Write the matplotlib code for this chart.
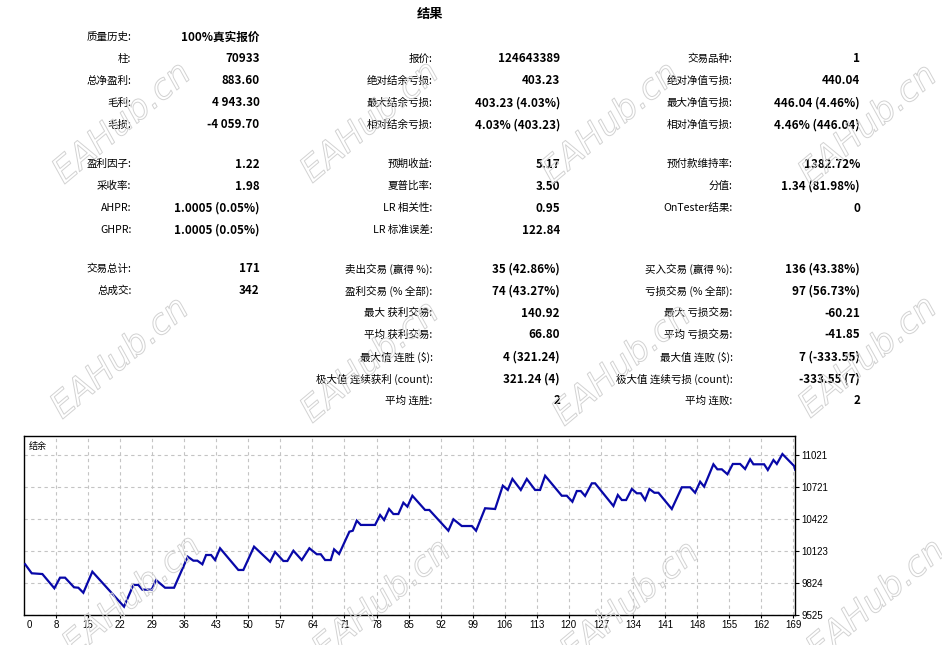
import matplotlib
matplotlib.use("Agg")
import matplotlib.pyplot as plt
import matplotlib.patheffects as pe
from matplotlib.ticker import FixedLocator

# ---------------- data ----------------
title = "结果"

col1_labels = ["质量历史:", "柱:", "总净盈利:", "毛利:", "毛损:",
               "盈利因子:", "采收率:", "AHPR:", "GHPR:",
               "交易总计:", "总成交:", "", "", "", "", ""]
col1_values = ["100%真实报价", "70933", "883.60", "4 943.30", "-4 059.70",
               "1.22", "1.98", "1.0005 (0.05%)", "1.0005 (0.05%)",
               "171", "342", "", "", "", "", ""]
col2_labels = ["", "报价:", "绝对结余亏损:", "最大结余亏损:", "相对结余亏损:",
               "预期收益:", "夏普比率:", "LR 相关性:", "LR 标准误差:",
               "卖出交易 (赢得 %):", "盈利交易 (% 全部):", "最大 获利交易:",
               "平均 获利交易:", "最大值 连胜 ($):", "极大值 连续获利 (count):", "平均 连胜:"]
col2_values = ["", "124643389", "403.23", "403.23 (4.03%)", "4.03% (403.23)",
               "5.17", "3.50", "0.95", "122.84",
               "35 (42.86%)", "74 (43.27%)", "140.92", "66.80", "4 (321.24)",
               "321.24 (4)", "2"]
col3_labels = ["", "交易品种:", "绝对净值亏损:", "最大净值亏损:", "相对净值亏损:",
               "预付款维持率:", "分值:", "OnTester结果:", "",
               "买入交易 (赢得 %):", "亏损交易 (% 全部):", "最大 亏损交易:",
               "平均 亏损交易:", "最大值 连败 ($):", "极大值 连续亏损 (count):", "平均 连败:"]
col3_values = ["", "1", "440.04", "446.04 (4.46%)", "4.46% (446.04)",
               "1382.72%", "1.34 (81.98%)", "0", "",
               "136 (43.38%)", "97 (56.73%)", "-60.21", "-41.85", "7 (-333.55)",
               "-333.55 (7)", "2"]

chart_label = "结余"
trade_x = [1.23, 2.69, 5.01, 7.63, 8.87, 9.97, 11.93, 12.87, 13.96, 15.93,
           22.85, 24.89, 25.98, 26.85, 28.9, 29.84, 31.81, 33.78, 36.77, 37.99,
           38.87, 39.96, 40.77, 41.86, 42.73, 43.82, 47.82, 48.91, 51.25, 54.75,
           55.84, 57.65, 58.52, 59.84, 61.67, 63.33, 64.95, 65.82, 66.76, 68.0,
           68.73, 69.82, 72.07, 72.81, 73.68, 74.56, 77.68, 78.78, 79.65, 80.74,
           81.68, 82.77, 83.86, 84.74, 85.83, 88.6, 89.54, 93.69, 94.79, 96.62,
           98.81, 99.74, 101.71, 103.9, 105.58, 106.67, 107.68, 109.51, 110.82, 112.63,
           113.72, 114.82, 118.46, 119.55, 120.78, 121.74, 122.61, 123.55, 125.02, 125.74,
           129.74, 130.7, 131.57, 132.51, 133.76, 134.85, 135.72, 136.66, 137.6, 138.69,
           139.57, 142.49, 144.68, 146.49, 147.58, 148.68, 149.55, 151.58, 152.45, 153.41,
           154.64, 155.82, 157.41, 158.5, 159.6, 160.32, 162.66, 163.46, 164.69, 165.43,
           166.65, 169.21, 169.43]
balance = [10000, 9915, 9908, 9775, 9874, 9874, 9784, 9780, 9733, 9930,
           9603, 9806, 9806, 9762, 9762, 9852, 9780, 9780, 10070, 10033,
           10033, 9999, 10086, 10086, 10039, 10149, 9946, 9946, 10164, 10023,
           10114, 10030, 10030, 10126, 10039, 10149, 10093, 10093, 10039, 10039,
           10139, 10095, 10304, 10313, 10407, 10367, 10367, 10460, 10413, 10516,
           10469, 10469, 10575, 10538, 10640, 10507, 10507, 10313, 10420, 10357,
           10357, 10313, 10523, 10516, 10734, 10694, 10797, 10694, 10797, 10694,
           10694, 10827, 10640, 10640, 10584, 10684, 10684, 10638, 10756, 10756,
           10544, 10647, 10600, 10600, 10703, 10663, 10663, 10600, 10703, 10668,
           10668, 10516, 10719, 10719, 10668, 10771, 10725, 10934, 10887, 10887,
           10841, 10937, 10937, 10890, 10981, 10934, 10934, 10881, 10974, 10937,
           11030, 10918, 10884]

x_ticks = [8, 15, 22, 29, 36, 43, 50, 57, 64, 71, 78, 85, 92, 99, 106, 113,
           120, 127, 134, 141, 148, 155, 162, 169]
y_ticks = [9525, 9824, 10123, 10422, 10721, 11021]
watermark = "EAHub.cn"

# ---------------- layout ----------------
W, H = 942, 645
fig = plt.figure(figsize=(W / 100, H / 100), dpi=100)
fig.patch.set_facecolor("white")
CJK = ["Noto Sans CJK SC", "DejaVu Sans"]
TICKF = ["Liberation Sans", "DejaVu Sans"]

def fx(px):
    return px / W

def fy(py):
    return 1 - py / H

row_y = [37, 59, 81, 103, 125, 164, 186, 208, 230, 269, 291, 313, 335, 357, 379, 401]
label_right = [131.5, 432.5, 732.5]
value_right = [259.5, 560, 860]

fig.text(fx(430), fy(14), title, ha="center", va="center", fontsize=9.5,
         fontweight="bold", family=CJK)

cols = [(col1_labels, col1_values), (col2_labels, col2_values), (col3_labels, col3_values)]
for ci, (labs, vals) in enumerate(cols):
    for ri, y in enumerate(row_y):
        if labs[ri]:
            fig.text(fx(label_right[ci]), fy(y), labs[ri], ha="right", va="center",
                     fontsize=7.6, family=CJK)
        if vals[ri]:
            fig.text(fx(value_right[ci]), fy(y), vals[ri], ha="right", va="center",
                     fontsize=8.4, fontweight="bold", family=CJK)

# ---------------- chart ----------------
ax = fig.add_axes([fx(24), fy(615), fx(795) - fx(24), (615 - 436) / H])
ax.set_facecolor("white")
ax.plot(trade_x, balance, color="#0808a8", lw=1.6, solid_joinstyle="miter", zorder=3)
ax.set_xlim(1.0, 169.4)
ax.set_ylim(9525, 11198.5)

ax.xaxis.set_major_locator(FixedLocator(x_ticks))
ax.set_xticklabels([str(t) for t in x_ticks])
ax.yaxis.set_major_locator(FixedLocator(y_ticks))
ax.set_yticklabels([str(t) for t in y_ticks])
ax.yaxis.tick_right()
ax.tick_params(axis="x", length=2, pad=1.5, labelsize=7, colors="black", width=0.8)
ax.tick_params(axis="y", length=3, pad=1.5, labelsize=7, colors="black", width=0.8)
for lab in ax.get_xticklabels() + ax.get_yticklabels():
    lab.set_family(TICKF)
ax.grid(True, color="#c4c4c4", linestyle=(0, (3, 3)), linewidth=0.8, zorder=0)
for s in ax.spines.values():
    s.set_color("black")
    s.set_linewidth(1.0)
ax.text(0.004, -0.028, "0", transform=ax.transAxes, ha="left", va="top",
        fontsize=7, family=TICKF)
ax.text(0.006, 0.965, chart_label, transform=ax.transAxes, ha="left", va="top",
        fontsize=6.5, family=CJK)

# ---------------- watermarks ----------------
wm_pos = [(122, 123), (370, 122), (610, 123), (868, 125),
          (120, 358), (370, 362), (622, 365), (868, 357),
          (132, 596), (382, 600), (630, 602), (876, 600)]
for (px, py) in wm_pos:
    fig.text(fx(px), fy(py), watermark, ha="center", va="center", rotation=40,
             fontsize=25, color=(1, 1, 1, 0), family="DejaVu Sans", style="italic",
             path_effects=[pe.Stroke(linewidth=0.7, foreground="#d2d2d2")], zorder=10)

fig.savefig("out.png", dpi=100, facecolor="white")
